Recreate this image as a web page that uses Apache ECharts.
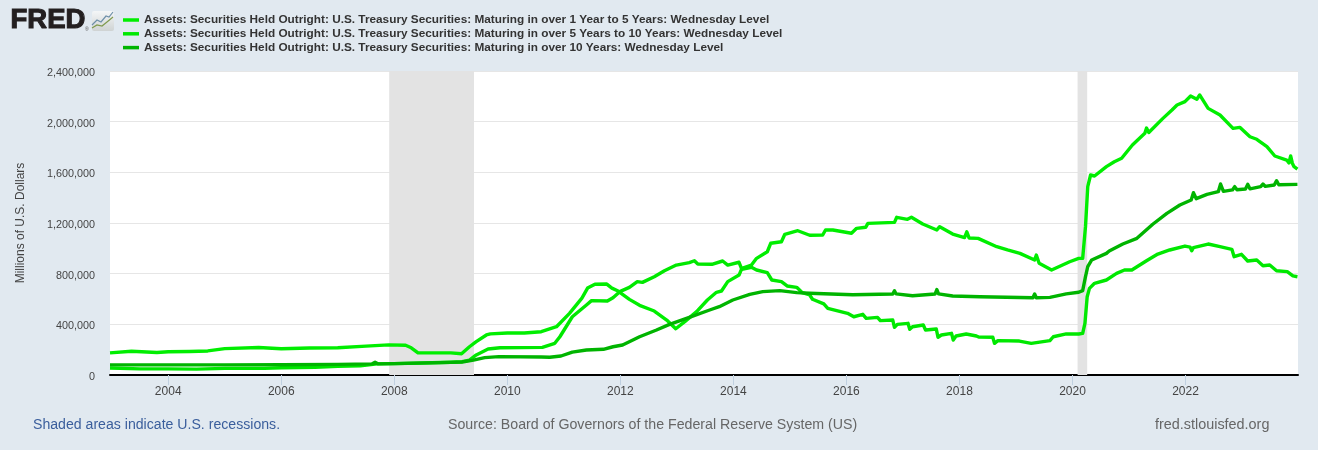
<!DOCTYPE html>
<html><head><meta charset="utf-8">
<style>html,body{margin:0;padding:0;background:#e1e9f0}#c{width:1318px;height:450px}</style>
<script src="https://cdn.jsdelivr.net/npm/echarts@6/dist/echarts.min.js"></script>
</head><body><div id="c"></div>
<script>
const seriesNames = [
  'Assets: Securities Held Outright: U.S. Treasury Securities: Maturing in over 1 Year to 5 Years: Wednesday Level',
  'Assets: Securities Held Outright: U.S. Treasury Securities: Maturing in over 5 Years to 10 Years: Wednesday Level',
  'Assets: Securities Held Outright: U.S. Treasury Securities: Maturing in over 10 Years: Wednesday Level'
];
const tickYears = [2004,2006,2008,2010,2012,2014,2016,2018,2020,2022];
const recessions = [[2007.91,2009.41],[2020.09,2020.26]];

// x positions are decimal years, y values are millions of dollars
const years1 = [2002.97,2003.35,2003.38,2003.8,2004.0,2004.38,2004.4,2004.7,2005.0,2005.6,2006.0,2006.5,2007.0,2007.5,2007.9,2008.2,2008.3,2008.42,2009.0,2009.19,2009.33,2009.45,2009.63,2009.7,2010.0,2010.3,2010.6,2010.87,2011.1,2011.32,2011.42,2011.55,2011.76,2011.85,2011.96,2012.16,2012.34,2012.6,2012.82,2012.98,2013.14,2013.35,2013.54,2013.7,2013.79,2013.9,2014.1,2014.15,2014.32,2014.41,2014.6,2014.66,2014.85,2014.91,2015.14,2015.35,2015.58,2015.63,2015.76,2016.09,2016.18,2016.34,2016.38,2016.85,2016.89,2017.08,2017.15,2017.35,2017.6,2017.65,2017.88,2018.09,2018.13,2018.17,2018.33,2018.66,2018.85,2019.07,2019.33,2019.36,2019.41,2019.63,2019.95,2020.11,2020.18,2020.23,2020.27,2020.32,2020.39,2020.6,2020.74,2020.87,2021.06,2021.28,2021.31,2021.35,2021.6,2021.76,2021.85,2021.99,2022.09,2022.2,2022.25,2022.4,2022.61,2022.84,2022.96,2023.14,2023.26,2023.44,2023.58,2023.79,2023.83,2023.86,2023.89,2023.92,2023.98];
const values1 = [175000,187000,192000,178000,183000,186000,194000,190000,208000,217000,207000,213000,215000,228000,238000,235000,215000,175000,175000,168000,223000,263000,316000,325000,332000,332000,342000,381000,487000,607000,686000,717000,718000,686000,663000,597000,550000,505000,434000,365000,421000,500000,592000,653000,663000,737000,789000,842000,868000,921000,973000,1040000,1052000,1111000,1139000,1103000,1105000,1145000,1145000,1119000,1158000,1166000,1197000,1205000,1245000,1229000,1245000,1192000,1145000,1171000,1113000,1085000,1131000,1082000,1079000,1013000,987000,960000,908000,947000,882000,829000,894000,921000,921000,1171000,1487000,1579000,1571000,1645000,1684000,1711000,1816000,1908000,1950000,1915000,2026000,2092000,2132000,2158000,2203000,2177000,2211000,2105000,2053000,1947000,1955000,1881000,1861000,1803000,1729000,1697000,1675000,1729000,1672000,1645000,1626000];

const years2 = [2002.97,2003.5,2004.0,2004.5,2005.0,2005.2,2005.23,2005.7,2006.0,2006.6,2007.0,2007.4,2007.7,2008.0,2008.5,2009.0,2009.2,2009.33,2009.45,2009.66,2009.87,2010.62,2010.84,2010.93,2011.15,2011.4,2011.49,2011.77,2011.87,2011.99,2012.16,2012.3,2012.39,2012.6,2012.78,2012.99,2013.22,2013.31,2013.37,2013.62,2013.81,2013.9,2014.1,2014.15,2014.32,2014.41,2014.6,2014.68,2014.85,2014.95,2015.12,2015.22,2015.35,2015.4,2015.6,2015.67,2016.02,2016.13,2016.29,2016.35,2016.55,2016.6,2016.82,2016.85,2016.9,2017.09,2017.12,2017.17,2017.36,2017.4,2017.59,2017.62,2017.68,2017.86,2017.89,2017.94,2018.12,2018.15,2018.3,2018.34,2018.59,2018.62,2018.68,2019.06,2019.27,2019.6,2019.66,2019.89,2020.11,2020.18,2020.22,2020.26,2020.3,2020.39,2020.6,2020.78,2020.92,2021.05,2021.31,2021.51,2021.72,2021.99,2022.08,2022.11,2022.14,2022.4,2022.61,2022.82,2022.86,2022.99,2023.1,2023.26,2023.37,2023.49,2023.61,2023.8,2023.9,2023.98];
const values2 = [55000,48000,48000,46000,52000,52000,46000,52000,57000,60000,68000,72000,88000,90000,95000,101000,105000,118000,158000,205000,215000,218000,250000,302000,460000,553000,587000,584000,610000,658000,692000,737000,731000,776000,823000,868000,887000,902000,876000,874000,900000,868000,890000,834000,850000,829000,808000,750000,737000,703000,692000,650000,632000,598000,561000,526000,487000,460000,479000,447000,455000,429000,434000,376000,400000,408000,361000,381000,395000,355000,363000,298000,316000,329000,276000,308000,324000,310000,308000,300000,298000,250000,271000,268000,250000,271000,302000,324000,324000,329000,408000,618000,684000,724000,750000,802000,829000,829000,902000,955000,987000,1018000,1010000,981000,1005000,1034000,1013000,992000,934000,953000,900000,908000,863000,868000,823000,816000,782000,776000];

const years3 = [2002.97,2004.0,2005.0,2006.0,2007.0,2007.61,2007.66,2007.71,2008.0,2009.0,2009.2,2009.4,2009.6,2009.85,2010.6,2010.75,2010.95,2011.15,2011.4,2011.7,2011.87,2012.04,2012.34,2012.64,2012.87,2013.22,2013.58,2013.75,2013.99,2014.29,2014.52,2014.82,2015.12,2015.35,2016.11,2016.82,2016.85,2016.88,2017.17,2017.57,2017.6,2017.63,2017.88,2018.36,2019.3,2019.33,2019.36,2019.6,2019.89,2020.11,2020.18,2020.23,2020.27,2020.34,2020.6,2020.65,2020.89,2021.14,2021.42,2021.67,2021.9,2022.1,2022.14,2022.19,2022.38,2022.58,2022.62,2022.67,2022.83,2022.87,2022.91,2023.06,2023.1,2023.14,2023.33,2023.37,2023.41,2023.57,2023.61,2023.65,2023.98];
const values3 = [80000,80000,80000,81000,84000,88000,100000,88000,90000,100000,103000,118000,137000,145000,142000,140000,150000,181000,197000,203000,223000,237000,302000,355000,400000,455000,513000,539000,592000,637000,658000,666000,650000,645000,634000,640000,665000,640000,626000,640000,675000,640000,624000,618000,610000,640000,610000,613000,640000,653000,666000,776000,855000,908000,960000,979000,1034000,1079000,1190000,1276000,1342000,1382000,1439000,1392000,1426000,1447000,1508000,1450000,1461000,1487000,1463000,1468000,1505000,1470000,1487000,1508000,1489000,1500000,1534000,1502000,1505000];

const colors = ['#00ee00','#00e800','#00b400'];
const pairs = (xs,ys)=>xs.map((x,i)=>[x,ys[i]]);
const font = '"Liberation Sans", Arial, sans-serif';

const chart = echarts.init(document.getElementById('c'),null,{renderer:'canvas'});
chart.setOption({
  animation:false,
  backgroundColor:'#e1e9f0',
  grid:{left:110,right:20,top:71,bottom:75,show:true,backgroundColor:'#fff',borderWidth:0},
  legend:{
    orient:'vertical',left:123,top:14,padding:0,itemGap:1.8,itemWidth:16,itemHeight:3.5,icon:'rect',
    selectedMode:false,
    textStyle:{fontFamily:font,fontSize:11.8,fontWeight:'bold',color:'#333'},
    data:seriesNames
  },
  xAxis:{
    type:'value',min:2002.97,max:2023.99,
    axisLine:{show:true,onZero:false,lineStyle:{color:'#000',width:2}},
    axisTick:{show:true,length:10,customValues:tickYears,lineStyle:{color:'#c0d0e0',width:1}},
    axisLabel:{customValues:tickYears,margin:11,fontFamily:font,fontSize:12,color:'#444',
      formatter:v=>String(v)},
    splitLine:{show:false}
  },
  yAxis:{
    type:'value',min:0,max:2400000,interval:400000,
    name:'Millions of U.S. Dollars',nameLocation:'middle',nameRotate:90,nameGap:83,
    nameTextStyle:{fontFamily:font,fontSize:12,color:'#444'},
    axisLine:{show:false},axisTick:{show:false},
    axisLabel:{margin:15,formatter:v=>'{a|'+v.toLocaleString('en-US')+'}',
      rich:{a:{padding:[4,0,0,0],fontFamily:font,fontSize:10.8,color:'#444'}}},
    splitLine:{show:true,lineStyle:{color:'#e6e6e6',width:1}}
  },
  series:[[years1,values1],[years2,values2],[years3,values3]].map((d,i)=>({
    name:seriesNames[i],type:'line',data:pairs(d[0],d[1]),
    showSymbol:false,smooth:false,clip:true,
    lineStyle:{color:colors[i],width:3.4,join:'round'},itemStyle:{color:colors[i]},
    silent:true,
    markArea:i===0?{silent:true,itemStyle:{color:'#e3e3e3',opacity:1},
      data:recessions.map(r=>[{xAxis:r[0]},{xAxis:r[1]}])}:undefined
  })),
  graphic:[
    {type:'text',left:10,top:6,style:{text:'FRED',font:'bold 27.5px "Liberation Sans"',fill:'#231f20',stroke:'#231f20',lineWidth:1.1}},
    {type:'text',left:85,top:27,style:{text:'®',font:'5px "Liberation Sans"',fill:'#555'}},
    {type:'rect',shape:{x:92,y:11,width:22,height:20,r:2},style:{fill:{type:'linear',x:0,y:0,x2:0,y2:1,colorStops:[{offset:0,color:'#f4f6f7'},{offset:1,color:'#cfd3d3'}]}}},
    {type:'polyline',shape:{points:[[92,25],[97,20],[101,22],[106,16],[109,17],[113,12]]},style:{fill:'none',stroke:'#6d8fa8',lineWidth:1.2}},
    {type:'polyline',shape:{points:[[92,28],[97,25],[102,26],[107,22],[113,17]]},style:{fill:'none',stroke:'#7f9a4d',lineWidth:1.2}},
    {type:'text',left:33,top:418,style:{text:'Shaded areas indicate U.S. recessions.',font:'14.12px "Liberation Sans"',fill:'#3a5e9c'}},
    {type:'text',left:448,top:418,style:{text:'Source: Board of Governors of the Federal Reserve System (US)',font:'14.2px "Liberation Sans"',fill:'#666'}},
    {type:'text',left:1155,top:418,style:{text:'fred.stlouisfed.org',font:'14.4px "Liberation Sans"',fill:'#666'}}
  ]
});
</script></body></html>
